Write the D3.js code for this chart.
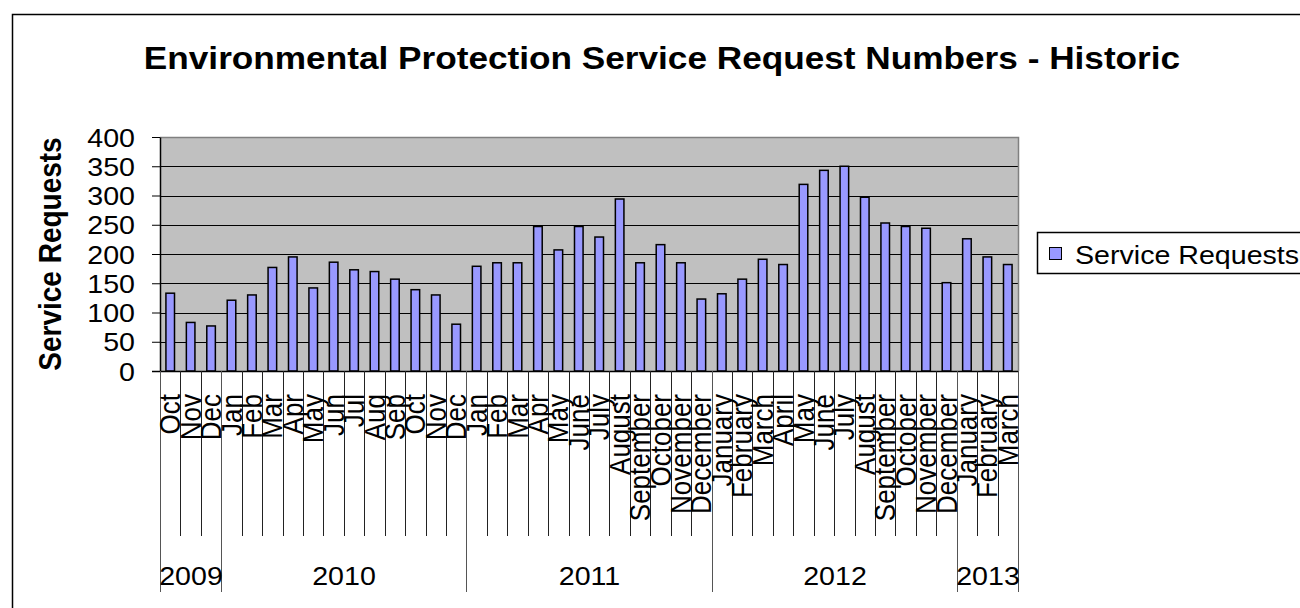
<!DOCTYPE html>
<html>
<head>
<meta charset="utf-8">
<script src="https://cdn.jsdelivr.net/npm/d3@7"></script>
<style>
  html, body { margin: 0; padding: 0; background: #fff; }
  svg { display: block; font-family: Arial, "Liberation Sans", sans-serif; }
</style>
</head>
<body>
<svg id="chart" width="1300" height="608"></svg>
<script>
// ---- data ----
const years = ["2009", "2010", "2011", "2012", "2013"];
const months2009 = ["Oct", "Nov", "Dec"];
const months2010 = ["Jan", "Feb", "Mar", "Apr", "May", "Jun", "Jul", "Aug", "Sep", "Oct", "Nov", "Dec"];
const months2011 = ["Jan", "Feb", "Mar", "Apr", "May", "June", "July", "August", "September", "October", "November", "December"];
const months2012 = ["January", "February", "March", "April", "May", "June", "July", "August", "September", "October", "November", "December"];
const months2013 = ["January", "February", "March"];
const values2009 = [133, 83, 77];
const values2010 = [121, 130, 177, 195, 142, 186, 173, 170, 157, 139, 130, 80];
const values2011 = [179, 185, 185, 247, 207, 247, 229, 294, 185, 216, 185, 123];
const values2012 = [132, 157, 191, 182, 319, 343, 350, 297, 253, 247, 244, 151];
const values2013 = [226, 195, 182];
const yTicks = [0, 50, 100, 150, 200, 250, 300, 350, 400];
const seriesName = "Service Requests";
const title = "Environmental Protection Service Request Numbers - Historic";
const yTitle = "Service Requests";

// build the flat table
const monthLists = [months2009, months2010, months2011, months2012, months2013];
const valueLists = [values2009, values2010, values2011, values2012, values2013];
const rows = [];
monthLists.forEach((ml, yi) => ml.forEach((m, mi) => rows.push({ key: rows.length, year: years[yi], month: m, value: valueLists[yi][mi] })));

// ---- layout ----
const SX = 1.1; // horizontal glyph stretch of the original
const plot = { left: 160, right: 1018, top: 137, bottom: 371 };
const svg = d3.select("#chart");

// outer chart frame
svg.append("rect").attr("x", 12.5).attr("y", 14.5).attr("width", 1400).attr("height", 700)
  .attr("fill", "#fff").attr("stroke", "#000").attr("stroke-width", 1.5);

const x = d3.scaleBand().domain(rows.map(d => d.key)).range([plot.left, plot.right]).padding(0);
const xBar = d3.scaleBand().domain(rows.map(d => d.key)).range([plot.left, plot.right])
  .paddingInner(0.58).paddingOuter(0.29);
const y = d3.scaleLinear().domain([0, 400]).range([plot.bottom, plot.top]);

// plot background
svg.append("rect").attr("x", plot.left).attr("y", plot.top)
  .attr("width", plot.right - plot.left).attr("height", plot.bottom - plot.top)
  .attr("fill", "#c0c0c0");

// gridlines
svg.append("g").selectAll("line").data(yTicks.filter(t => t > 0 && t < 400)).join("line")
  .attr("x1", plot.left).attr("x2", plot.right)
  .attr("y1", d => Math.round(y(d)) + 0.5).attr("y2", d => Math.round(y(d)) + 0.5)
  .attr("stroke", "#000").attr("stroke-width", 1);

// plot border (top/right gray)
svg.append("path")
  .attr("d", `M${plot.left},${plot.top + 0.5}H${plot.right + 0.5}V${plot.bottom}`)
  .attr("fill", "none").attr("stroke", "#808080").attr("stroke-width", 1.5);

// bars
svg.append("g").selectAll("rect").data(rows).join("rect")
  .attr("x", d => xBar(d.key)).attr("width", xBar.bandwidth())
  .attr("y", d => y(d.value)).attr("height", d => y(0) - y(d.value))
  .attr("fill", "#9999ff").attr("stroke", "#000").attr("stroke-width", 1.5);

// y axis
const yAxis = svg.append("g").attr("transform", `translate(${plot.left},0)`)
  .call(d3.axisLeft(y).tickValues(yTicks).tickSize(8).tickSizeOuter(0));
yAxis.select(".domain").attr("stroke", "#000").attr("stroke-width", 1.5);
yAxis.selectAll(".tick line").attr("stroke", "#000").attr("stroke-width", 1);
yAxis.selectAll(".tick text")
  .attr("x", 0).attr("dy", null).attr("y", 9)
  .attr("transform", `translate(-25,0) scale(${SX},1)`)
  .attr("font-size", 26).attr("font-family", "Arial, 'Liberation Sans', sans-serif")
  .attr("fill", "#000").attr("text-anchor", "end");

// x axis baseline
svg.append("line").attr("x1", plot.left - 8).attr("x2", plot.right)
  .attr("y1", plot.bottom + 0.5).attr("y2", plot.bottom + 0.5)
  .attr("stroke", "#000").attr("stroke-width", 1.5);

// month boundary lines
const boundaries = d3.range(rows.length + 1);
const yearStartIdx = new Set();
let acc = 0;
monthLists.forEach(ml => { yearStartIdx.add(acc); acc += ml.length; });
yearStartIdx.add(acc);
const bx = i => Math.round(plot.left + i * x.step()) + 0.5;
svg.append("g").selectAll("line").data(boundaries).join("line")
  .attr("x1", bx).attr("x2", bx)
  .attr("y1", plot.bottom)
  .attr("y2", i => yearStartIdx.has(i) ? 592 : 536)
  .attr("stroke", i => yearStartIdx.has(i) ? "#555" : "#222").attr("stroke-width", 1);

// month labels
svg.append("g").selectAll("text").data(rows).join("text")
  .attr("transform", d => `translate(${x(d.key) + x.bandwidth() / 2 + 10},394) scale(${SX},1) rotate(-90)`)
  .attr("text-anchor", "end")
  .attr("font-size", 26).attr("fill", "#000")
  .text(d => d.month);

// year labels
let start = 0;
const yearSpans = years.map((yr, i) => { const s = start; start += monthLists[i].length; return { yr, s, e: start }; });
svg.append("g").selectAll("text").data(yearSpans).join("text")
  .attr("transform", d => `translate(${(bx(d.s) + bx(d.e)) / 2},585) scale(${SX},1)`)
  .attr("text-anchor", "middle").attr("font-size", 26).attr("fill", "#000")
  .text(d => d.yr);

// y axis title
svg.append("text")
  .attr("transform", `translate(61,${(plot.top + plot.bottom) / 2}) scale(${SX},1) rotate(-90)`)
  .attr("text-anchor", "middle").attr("font-size", 28).attr("font-weight", "bold").attr("fill", "#000")
  .text(yTitle);

// title
svg.append("text")
  .attr("transform", `translate(662,69) scale(${SX},1)`)
  .attr("text-anchor", "middle").attr("font-size", 32).attr("font-weight", "bold").attr("fill", "#000")
  .text(title);

// legend
const lg = svg.append("g");
lg.append("rect").attr("x", 1037.5).attr("y", 232.5).attr("width", 300).attr("height", 41)
  .attr("fill", "#fff").attr("stroke", "#000").attr("stroke-width", 1.5);
lg.append("rect").attr("x", 1049.5).attr("y", 247.5).attr("width", 12).attr("height", 12)
  .attr("fill", "#9999ff").attr("stroke", "#000").attr("stroke-width", 1);
lg.append("text").attr("transform", `translate(1075,264) scale(${SX},1)`)
  .attr("font-size", 26).attr("fill", "#000").text(seriesName);
</script>
</body>
</html>
